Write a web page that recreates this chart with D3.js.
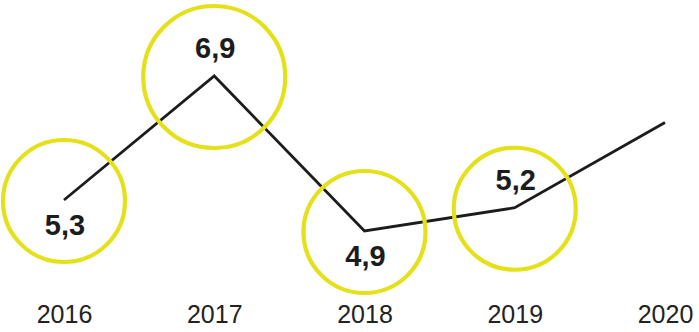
<!DOCTYPE html>
<html>
<head>
<meta charset="utf-8">
<script src="https://cdn.jsdelivr.net/npm/d3@7"></script>
<style>
  html, body { margin: 0; padding: 0; background: #fff; }
  svg { display: block; }
</style>
</head>
<body>
<div id="chart"></div>
<script>
// data
var years = ["2016", "2017", "2018", "2019", "2020"];
var values = [5.3, 6.9, 4.9, 5.2, 6.3];
var valueLabels = ["5,3", "6,9", "4,9", "5,2", ""];
var labelSide = ["below", "above", "below", "above", "none"];

var svgWidth = 699;
var svgHeight = 332;

var data = years.map(function(y, i) {
    return { year: y, value: values[i], label: valueLabels[i], side: labelSide[i] };
});

var svg = d3.select("#chart")
    .append("svg")
    .attr("width", svgWidth)
    .attr("height", svgHeight);

// scales
var x = d3.scalePoint()
    .domain(years)
    .range([64, 665]);

var y = d3.scaleLinear()
    .domain([4, 7])
    .range([300.75, 68.25]);

var maxVal = d3.max(values);

// the line
var line = d3.line()
    .x(function(d) { return x(d.year); })
    .y(function(d) { return y(d.value); });

svg.append("path")
    .datum(data)
    .attr("d", line)
    .attr("fill", "none")
    .attr("stroke", "#1c1c1c")
    .attr("stroke-width", 2.8)
    .attr("stroke-linejoin", "miter");

// yellow rings round the labelled points
var marked = data.filter(function(d) { return d.label !== ""; });

svg.selectAll("circle.ring")
    .data(marked)
    .enter()
    .append("circle")
    .attr("class", "ring")
    .attr("cx", function(d) { return x(d.year); })
    .attr("cy", function(d) { return y(d.value) + 1; })
    .attr("r", function(d) { return d.value === maxVal ? 71 : 61; })
    .attr("fill", "none")
    .attr("stroke", "#e4e11a")
    .attr("stroke-width", 4.2);

// value labels
svg.selectAll("text.val")
    .data(marked)
    .enter()
    .append("text")
    .attr("class", "val")
    .attr("x", function(d) { return x(d.year) + 1; })
    .attr("y", function(d) { return d.side === "below" ? y(d.value) + 35 : y(d.value) - 18; })
    .attr("text-anchor", "middle")
    .attr("font-family", "'Liberation Sans', Arial, sans-serif")
    .attr("font-weight", "bold")
    .attr("font-size", "29px")
    .attr("fill", "#1c1c1c")
    .text(function(d) { return d.label; });

// year axis
var xAxis = d3.axisBottom(x).tickSize(0).tickPadding(0);

var axisG = svg.append("g")
    .attr("transform", "translate(0, 305)")
    .call(xAxis);

axisG.select(".domain").remove();
axisG.selectAll("text")
    .attr("dy", "0.71em")
    .attr("y", 0)
    .attr("font-family", "'Liberation Sans', Arial, sans-serif")
    .attr("font-size", "25px")
    .attr("fill", "#222");
</script>
</body>
</html>
